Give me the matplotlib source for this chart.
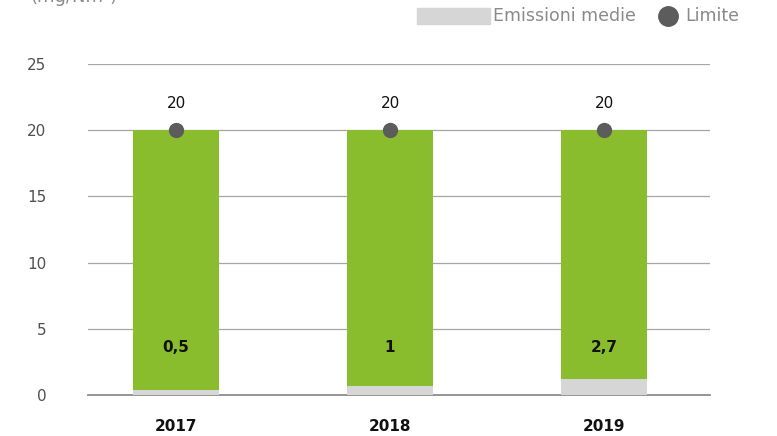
import numpy as np
import matplotlib.pyplot as plt

years = ["2017", "2018", "2019"]
limit = [20, 20, 20]
emission_labels = ["0,5", "1", "2,7"]
emission_heights = [0.4, 0.7, 1.2]  # grey bar heights as drawn in the picture

green = "#8abd2d"
grey = "#d6d6d6"
dot = "#5c5c5c"

fig = plt.figure(figsize=(7.77, 4.36), dpi=100)
ax = fig.add_axes([0.1133, 0.094, 0.8005, 0.759])

x = np.arange(len(years))
w = 0.4
ax.bar(x, limit, width=w, color=green, zorder=2)
ax.bar(x, emission_heights, width=w, color=grey, zorder=3)
ax.plot(x, limit, "o", color=dot, markersize=10, zorder=4)

for xi, v in zip(x, limit):
    ax.text(xi, v + 2.0, str(v), ha="center", va="center", fontsize=11, color="#111111")
for xi, s in zip(x, emission_labels):
    ax.text(xi, 3.6, s, ha="center", va="center", fontsize=11, fontweight="bold", color="#111111")

ax.set_xlim(-0.411, 2.495)
ax.set_ylim(0, 25)
ax.set_yticks(range(0, 26, 5))
ax.set_xticks(x)
ax.set_xticklabels(years, fontsize=11, fontweight="bold", color="#111111")
ax.tick_params(axis="x", length=0, pad=17)
ax.tick_params(axis="y", length=0, pad=30, labelsize=11, labelcolor="#505050")
ax.grid(axis="y", color="#a6a6a6", linewidth=0.9, zorder=0)
ax.set_axisbelow(True)
for side in ["top", "right", "left"]:
    ax.spines[side].set_visible(False)
ax.spines["bottom"].set_color("#8c8c8c")
ax.spines["bottom"].set_linewidth(1.3)

# legend drawn in figure coords
fig.patches.append(plt.Rectangle((417 / 777, 1 - 24 / 436), 73 / 777, 16 / 436,
                                 transform=fig.transFigure, color=grey))
fig.text(493 / 777, 1 - 16 / 436, "Emissioni medie", fontsize=12.5, color="#8a8a8a", va="center")
fig.add_artist(plt.Line2D([668 / 777], [1 - 16 / 436], marker="o", markersize=14,
                          color=dot, transform=fig.transFigure))
fig.text(685 / 777, 1 - 16 / 436, "Limite", fontsize=12.5, color="#8a8a8a", va="center")
fig.text(30 / 777, 1 + 3 / 436, "(mg/Nm³)", fontsize=13, color="#8a8a8a", va="center")

fig.savefig("out.png", dpi=100)
